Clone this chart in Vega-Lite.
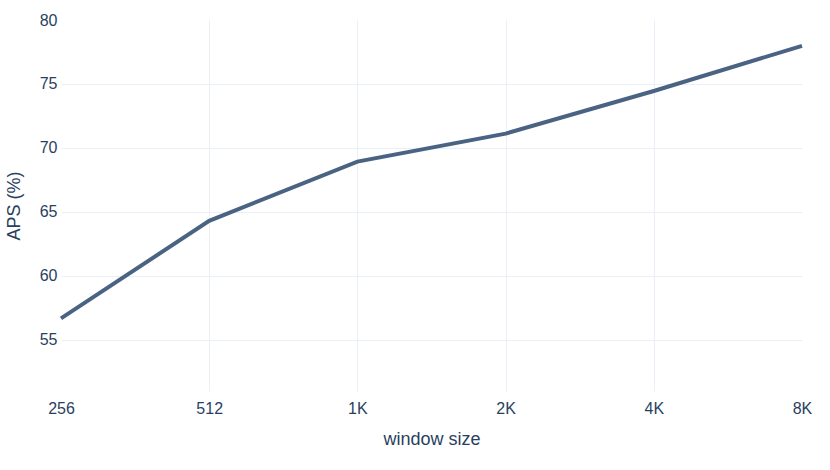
{
  "$schema": "https://vega.github.io/schema/vega-lite/v6.json",
  "width": 741,
  "height": 371,
  "autosize": {"type": "none"},
  "padding": {"left": 61, "top": 20, "right": 28, "bottom": 79},
  "background": "white",
  "config": {
    "view": {"stroke": null},
    "font": "Liberation Sans",
    "axis": {
      "labelFont": "Liberation Sans",
      "titleFont": "Liberation Sans",
      "labelColor": "#2a3f5f",
      "titleColor": "#2a3f5f",
      "gridColor": "#EBF0F8",
      "gridWidth": 1,
      "domain": false,
      "ticks": false,
      "labelFontSize": 16,
      "titleFontSize": 18,
      "titleFontWeight": "normal"
    }
  },
  "data": {
    "values": [
      {"window": "256", "order": 0, "aps": 56.68},
      {"window": "512", "order": 1, "aps": 64.3},
      {"window": "1K", "order": 2, "aps": 68.93},
      {"window": "2K", "order": 3, "aps": 71.12},
      {"window": "4K", "order": 4, "aps": 74.45},
      {"window": "8K", "order": 5, "aps": 77.98}
    ]
  },
  "mark": {"type": "line", "color": "#4a6383", "strokeWidth": 4},
  "encoding": {
    "x": {
      "field": "window",
      "type": "ordinal",
      "sort": {"field": "order"},
      "scale": {"type": "point", "padding": 0},
      "axis": {
        "title": "window size",
        "labelAngle": 0,
        "labelPadding": 9,
        "titlePadding": 14,
        "grid": true,
        "gridOpacity": {"condition": {"test": "datum.value == '256' || datum.value == '8K'", "value": 0}, "value": 1}
      }
    },
    "y": {
      "field": "aps",
      "type": "quantitative",
      "scale": {"domain": [51, 80], "nice": false, "zero": false},
      "axis": {
        "title": "APS (%)",
        "values": [55, 60, 65, 70, 75, 80],
        "labelPadding": 4,
        "titlePadding": 16,
        "gridOpacity": {"condition": {"test": "datum.value == 80", "value": 0}, "value": 1}
      }
    }
  }
}
